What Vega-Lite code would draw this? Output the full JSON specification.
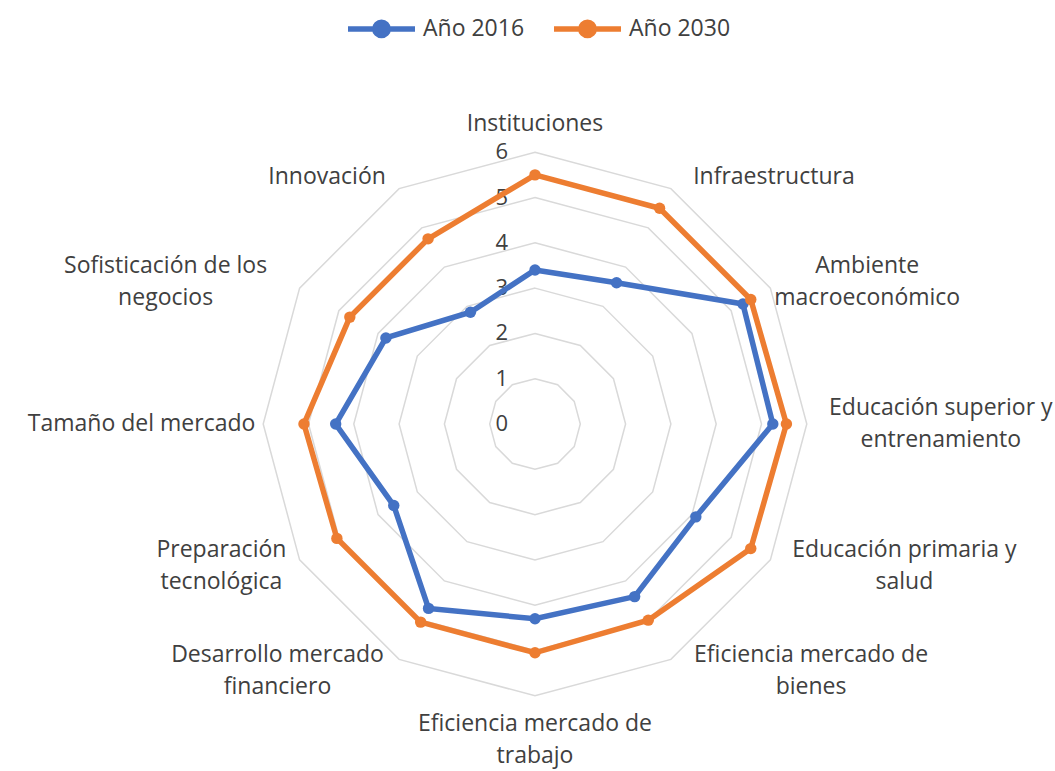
{
  "$schema": "https://vega.github.io/schema/vega-lite/v6.json",
  "width": 1055,
  "height": 771,
  "autosize": {"type": "none"},
  "padding": 0,
  "background": "white",
  "config": {"view": {"stroke": null}, "font": "Open Sans"},
  "datasets": {
    "puntajes": [
      {"categoria": "Instituciones", "serie": "Año 2016", "valor": 3.4},
      {"categoria": "Infraestructura", "serie": "Año 2016", "valor": 3.6},
      {"categoria": "Ambiente macroeconómico", "serie": "Año 2016", "valor": 5.3},
      {"categoria": "Educación superior y entrenamiento", "serie": "Año 2016", "valor": 5.25},
      {"categoria": "Educación primaria y salud", "serie": "Año 2016", "valor": 4.1},
      {"categoria": "Eficiencia mercado de bienes", "serie": "Año 2016", "valor": 4.4},
      {"categoria": "Eficiencia mercado de trabajo", "serie": "Año 2016", "valor": 4.3},
      {"categoria": "Desarrollo mercado financiero", "serie": "Año 2016", "valor": 4.7},
      {"categoria": "Preparación tecnológica", "serie": "Año 2016", "valor": 3.6},
      {"categoria": "Tamaño del mercado", "serie": "Año 2016", "valor": 4.4},
      {"categoria": "Sofisticación de los negocios", "serie": "Año 2016", "valor": 3.8},
      {"categoria": "Innovación", "serie": "Año 2016", "valor": 2.85},
      {"categoria": "Instituciones", "serie": "Año 2030", "valor": 5.5},
      {"categoria": "Infraestructura", "serie": "Año 2030", "valor": 5.5},
      {"categoria": "Ambiente macroeconómico", "serie": "Año 2030", "valor": 5.5},
      {"categoria": "Educación superior y entrenamiento", "serie": "Año 2030", "valor": 5.55},
      {"categoria": "Educación primaria y salud", "serie": "Año 2030", "valor": 5.5},
      {"categoria": "Eficiencia mercado de bienes", "serie": "Año 2030", "valor": 5.0},
      {"categoria": "Eficiencia mercado de trabajo", "serie": "Año 2030", "valor": 5.05},
      {"categoria": "Desarrollo mercado financiero", "serie": "Año 2030", "valor": 5.05},
      {"categoria": "Preparación tecnológica", "serie": "Año 2030", "valor": 5.05},
      {"categoria": "Tamaño del mercado", "serie": "Año 2030", "valor": 5.1},
      {"categoria": "Sofisticación de los negocios", "serie": "Año 2030", "valor": 4.72},
      {"categoria": "Innovación", "serie": "Año 2030", "valor": 4.72}
    ],
    "ejes": [
      {"etiqueta": "Instituciones"},
      {"etiqueta": "Infraestructura"},
      {"etiqueta": "Ambiente\nmacroeconómico"},
      {"etiqueta": "Educación superior y\nentrenamiento"},
      {"etiqueta": "Educación primaria y\nsalud"},
      {"etiqueta": "Eficiencia mercado de\nbienes"},
      {"etiqueta": "Eficiencia mercado de\ntrabajo"},
      {"etiqueta": "Desarrollo mercado\nfinanciero"},
      {"etiqueta": "Preparación\ntecnológica"},
      {"etiqueta": "Tamaño del mercado"},
      {"etiqueta": "Sofisticación de los\nnegocios"},
      {"etiqueta": "Innovación"}
    ],
    "niveles": [
      {"nivel": 0}, {"nivel": 1}, {"nivel": 2}, {"nivel": 3}, {"nivel": 4}, {"nivel": 5}, {"nivel": 6}
    ]
  },
  "layer": [
    {
      "data": {"name": "ejes"},
      "transform": [
        {"window": [{"op": "row_number", "as": "n"}]},
        {"calculate": "(datum.n-1)*PI/6", "as": "a"},
        {"calculate": "[1,2,3,4,5,6]", "as": "niveles"},
        {"flatten": ["niveles"], "as": ["nivel"]},
        {"calculate": "datum.nivel*sin(datum.a)", "as": "gx"},
        {"calculate": "datum.nivel*cos(datum.a)", "as": "gy"}
      ],
      "mark": {"type": "line", "interpolate": "linear-closed", "stroke": "#D9D9D9", "strokeWidth": 1.5},
      "encoding": {
        "x": {"field": "gx", "type": "quantitative", "scale": {"domain": [-11.81, 11.479], "nice": false, "zero": false}, "axis": null},
        "y": {"field": "gy", "type": "quantitative", "scale": {"domain": [-7.66, 9.36], "nice": false, "zero": false}, "axis": null},
        "detail": {"field": "nivel", "type": "nominal"},
        "order": {"field": "n", "type": "quantitative"}
      }
    },
    {
      "data": {"name": "niveles"},
      "mark": {"type": "text", "align": "right", "baseline": "middle", "dx": -27, "fontSize": 22, "color": "#404040"},
      "encoding": {
        "x": {"datum": 0, "type": "quantitative"},
        "y": {"field": "nivel", "type": "quantitative"},
        "text": {"field": "nivel", "type": "nominal"}
      }
    },
    {
      "data": {"name": "puntajes"},
      "transform": [
        {"window": [{"op": "row_number", "as": "n"}], "groupby": ["serie"]},
        {"calculate": "(datum.n-1)*PI/6", "as": "a"},
        {"calculate": "datum.valor*sin(datum.a)", "as": "px"},
        {"calculate": "datum.valor*cos(datum.a)", "as": "py"}
      ],
      "layer": [
        {
          "mark": {"type": "line", "interpolate": "linear-closed", "strokeWidth": 5.5},
          "encoding": {
            "x": {"field": "px", "type": "quantitative"},
            "y": {"field": "py", "type": "quantitative"},
            "order": {"field": "n", "type": "quantitative"},
            "color": {
              "field": "serie", "type": "nominal",
              "scale": {"domain": ["Año 2016", "Año 2030"], "range": ["#4472C4", "#ED7D31"]},
              "legend": {
                "orient": "none", "legendX": 345, "legendY": -8, "direction": "horizontal",
                "title": null, "labelFont": "Open Sans", "labelFontSize": 23, "labelColor": "#404040",
                "symbolType": "M-1,0L1,0M-0.2,0A0.2,0.2,0,1,1,0.2,0A0.2,0.2,0,1,1,-0.2,0Z",
                "symbolSize": 4489, "symbolStrokeWidth": 5.5, "labelOffset": 5, "columnPadding": 18, "padding": 0,
                "encode": {"symbols": {"update": {"fill": {"scale": "color", "field": "value"}, "stroke": {"scale": "color", "field": "value"}, "opacity": {"value": 1}}}}
              }
            }
          }
        },
        {
          "mark": {"type": "point", "shape": "circle", "filled": true, "size": 130, "opacity": 1},
          "encoding": {
            "x": {"field": "px", "type": "quantitative"},
            "y": {"field": "py", "type": "quantitative"},
            "color": {"field": "serie", "type": "nominal", "legend": null}
          }
        }
      ]
    },
    {
      "data": {"name": "ejes"},
      "transform": [
        {"window": [{"op": "row_number", "as": "n"}]},
        {"calculate": "(datum.n-1)*PI/6", "as": "a"},
        {"calculate": "abs(sin(datum.a)) < 0.01 ? 0 : (sin(datum.a) > 0 ? 1 : -1)", "as": "sn"},
        {"calculate": "split(datum.etiqueta, '\\n')", "as": "lineas"},
        {"calculate": "length(datum.lineas)", "as": "nl"},
        {"calculate": "max(length(datum.lineas[0]), datum.nl > 1 ? length(datum.lineas[1]) : 0)", "as": "lmax"},
        {"calculate": "6*sin(datum.a) + datum.sn*(10 + datum.lmax*6.2)/45.3", "as": "lx"},
        {"calculate": "(datum.sn == 0 ? 6*cos(datum.a) + cos(datum.a)*(12 + datum.nl*16)/45.3 : 6*cos(datum.a) + 13*cos(datum.a)/45.3) + (datum.nl - 1)*16/45.3", "as": "ly"}
      ],
      "mark": {"type": "text", "align": "center", "baseline": "middle", "lineBreak": "\n", "lineHeight": 32, "fontSize": 23, "color": "#404040"},
      "encoding": {
        "x": {"field": "lx", "type": "quantitative"},
        "y": {"field": "ly", "type": "quantitative"},
        "text": {"field": "etiqueta", "type": "nominal"}
      }
    }
  ]
}
